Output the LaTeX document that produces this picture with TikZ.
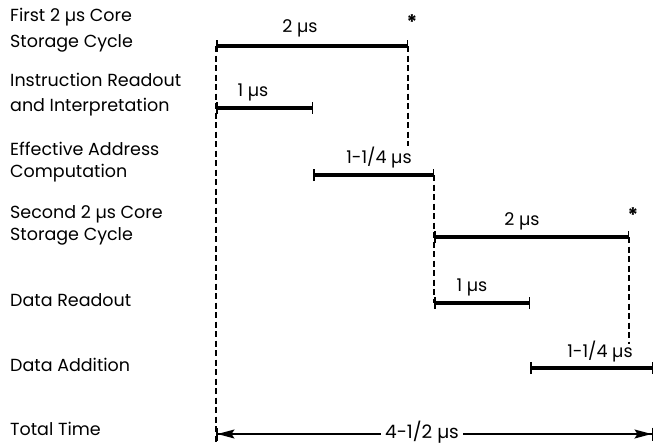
\documentclass[tikz,border=0pt]{standalone}
\usepackage{fontspec}
\setmainfont{Poppins}
\usetikzlibrary{arrows.meta}

\begin{document}
\begin{tikzpicture}[x=1pt, y=-1pt,
    every node/.style={font=\fontsize{17.5}{26}\selectfont, inner sep=0pt},
    rowlabel/.style={anchor=base west, align=left},
    barlabel/.style={anchor=base},
    bar/.style={line width=4.3pt, {Bar[width=12pt, line width=1.5pt]}-{Bar[width=12pt, line width=1.5pt]}},
    guide/.style={line width=1.2pt, dash pattern=on 6pt off 3.5pt},
    total/.style={line width=1.5pt, {Bar[width=13pt]Stealth[length=17pt, width=9pt, inset=3pt]}-{Stealth[length=17pt, width=9pt, inset=3pt]Bar[width=13pt]}}]
  \useasboundingbox (0,0) rectangle (655,447);

  % row labels
  \node[rowlabel] (first) at (10,47) {First 2 µs Core\\Storage Cycle};
  \node[rowlabel] (instr) at (10,111) {Instruction Readout\\[-1pt]and Interpretation};
  \node[rowlabel] (addr) at (10,177) {Effective Address\\[-4pt]Computation};
  \node[rowlabel] (second) at (10,240) {Second 2 µs Core\\[-4pt]Storage Cycle};
  \node[rowlabel] (read) at (10,306) {Data Readout};
  \node[rowlabel] (add) at (10,371) {Data Addition};
  \node[rowlabel] (total) at (10,435) {Total Time};

  % bar ends
  \coordinate (c1a) at (216,46);  \coordinate (c1b) at (408,46);
  \coordinate (ira) at (216,108); \coordinate (irb) at (313,108);
  \coordinate (eaa) at (313,175); \coordinate (eab) at (434,175);
  \coordinate (c2a) at (434,237); \coordinate (c2b) at (629,237);
  \coordinate (dra) at (434,303); \coordinate (drb) at (530,303);
  \coordinate (daa) at (530,368); \coordinate (dab) at (653,368);
  \coordinate (ta) at (216,434);  \coordinate (tb) at (653,434);
  \coordinate (g1) at (216,443);
  \coordinate (g2) at (408,146);
  \coordinate (g4) at (629,344);

  % dashed guides
  \draw[guide] (c1a) -- (g1);
  \draw[guide] (c1b) -- (g2);
  \draw[guide] (eab) -- (dra);
  \draw[guide] (c2b) -- (g4);

  % bars
  \draw[bar] (c1a) -- (c1b);
  \draw[bar] (ira) -- (irb);
  \draw[bar] (eaa) -- (eab);
  \draw[bar] (c2a) -- (c2b);
  \draw[bar] (dra) -- (drb);
  \draw[bar] (daa) -- (dab);
  \draw[total] (ta) -- (tb);

  % bar labels
  \node[barlabel] (l1) at (300,32) {2 µs};
  \node[barlabel] (l2) at (253,96) {1 µs};
  \node[barlabel] (l3) at (379,163) {1-1/4 µs};
  \node[barlabel] (l4) at (522,225) {2 µs};
  \node[barlabel] (l5) at (472,291) {1 µs};
  \node[barlabel] (l6) at (600,357) {1-1/4 µs};
  \node[fill=white, font=\fontsize{18.5}{18.5}\selectfont, inner xsep=4pt, inner ysep=0pt] (l7) at (422,432) {4-1/2 µs};
  \node[font=\fontsize{20}{20}\selectfont\bfseries] (s1) at (412,22) {*};
  \node[font=\fontsize{20}{20}\selectfont\bfseries] (s2) at (633,215) {*};
\end{tikzpicture}
\end{document}
